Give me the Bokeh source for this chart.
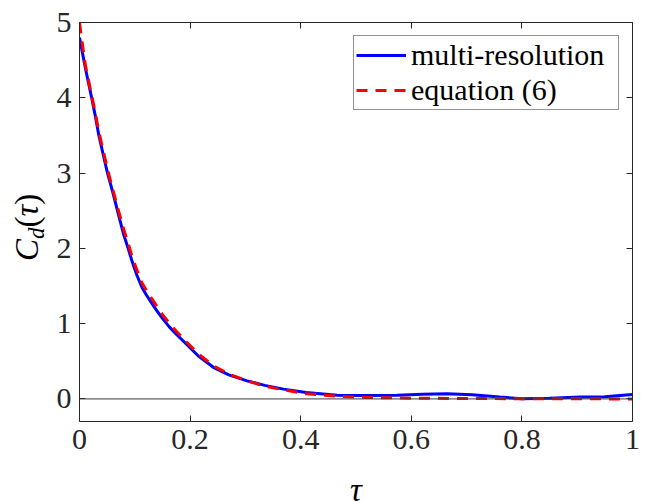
from bokeh.plotting import figure
from bokeh.layouts import row, column
from bokeh.models import (Range1d, LinearAxis, FixedTicker, Span, Label, Div,
                          Legend, LegendItem, CustomLabelingPolicy)
from bokeh.embed import file_html
from bokeh.resources import INLINE

# ---- data ----
tau_mr = [0.000, 0.005, 0.010, 0.015, 0.022, 0.028, 0.035, 0.043, 0.051, 0.060,
          0.069, 0.080, 0.088, 0.095, 0.104, 0.113, 0.121, 0.130, 0.140, 0.150,
          0.162, 0.175, 0.193, 0.215, 0.242, 0.270, 0.303, 0.335, 0.369, 0.410,
          0.466, 0.520, 0.574, 0.620, 0.665, 0.710, 0.760, 0.800, 0.850, 0.906,
          0.950, 1.000]
cd_mr = [4.80, 4.61, 4.42, 4.24, 4.00, 3.78, 3.50, 3.24, 2.99, 2.75,
         2.49, 2.18, 2.00, 1.83, 1.64, 1.48, 1.38, 1.28, 1.17, 1.07,
         0.96, 0.86, 0.73, 0.57, 0.42, 0.32, 0.24, 0.18, 0.13, 0.085,
         0.050, 0.045, 0.050, 0.062, 0.068, 0.055, 0.025, 0.003, 0.010, 0.024,
         0.030, 0.058]

tau_eq = [0.000, 0.005, 0.010, 0.015, 0.022, 0.028, 0.035, 0.043, 0.051, 0.060,
          0.069, 0.080, 0.088, 0.095, 0.104, 0.113, 0.121, 0.130, 0.140, 0.150,
          0.162, 0.175, 0.193, 0.215, 0.242, 0.270, 0.303, 0.335, 0.369, 0.410,
          0.466, 0.520, 0.600, 0.700, 0.800, 0.900, 1.000]
cd_eq = [5.00, 4.72, 4.46, 4.28, 4.03, 3.82, 3.55, 3.29, 3.04, 2.79,
         2.54, 2.25, 2.07, 1.89, 1.71, 1.54, 1.44, 1.34, 1.23, 1.12,
         1.01, 0.90, 0.76, 0.60, 0.44, 0.33, 0.24, 0.17, 0.12, 0.07,
         0.035, 0.020, 0.010, 0.005, 0.003, 0.001, 0.000]

x_ticks = [0, 0.2, 0.4, 0.6, 0.8, 1]
x_tick_labels = ["0", "0.2", "0.4", "0.6", "0.8", "1"]
y_ticks = [0, 1, 2, 3, 4, 5]
y_tick_labels = ["0", "1", "2", "3", "4", "5"]
series_names = ["multi-resolution", "equation (6)"]
x_label = "τ"
y_label_parts = ["C", "d", "τ"]

FONT = "Liberation Serif"
AX = "#262626"

LEFT_W = 48
MAIN_W = 657 - LEFT_W
MAIN_H = 470
BOT_H = 501 - MAIN_H


def blank_fig(w, h, xr, yr):
    f = figure(width=w, height=h, output_backend="svg", toolbar_location=None,
               title=None, x_range=xr, y_range=yr,
               min_border_left=0, min_border_right=0, min_border_top=0,
               min_border_bottom=0, x_axis_location=None, y_axis_location=None)
    f.outline_line_color = None
    f.background_fill_color = "white"
    f.border_fill_color = "white"
    f.grid.visible = False
    return f


# ---------------- main plot ----------------
p = figure(width=MAIN_W, height=MAIN_H, output_backend="svg",
           toolbar_location=None, title=None,
           x_range=Range1d(0, 1), y_range=Range1d(-0.3, 5),
           min_border_left=79 - LEFT_W, min_border_right=25, min_border_top=20,
           min_border_bottom=MAIN_H - 20 - 401,
           x_axis_location=None, y_axis_location=None)
p.background_fill_color = "white"
p.border_fill_color = "white"
p.outline_line_color = None
p.grid.visible = False

no_labels = CustomLabelingPolicy(code="""
const all = [...indices]
for (const i of all) indices.unset(i)
return indices
""")


def style_axis(ax, ticks, labels, show_labels):
    ax.ticker = FixedTicker(ticks=ticks)
    ax.major_label_overrides = {t: l for t, l in zip(ticks, labels)}
    ax.axis_line_color = AX
    ax.axis_line_width = 1
    ax.major_tick_line_color = AX
    ax.major_tick_line_width = 1
    ax.major_tick_in = 6
    ax.major_tick_out = 0
    ax.minor_tick_line_color = None
    ax.major_label_text_font = FONT
    ax.major_label_text_color = AX
    ax.major_label_text_font_size = "30px"
    if show_labels:
        ax.major_label_standoff = 8
    else:
        ax.major_label_standoff = 0
        ax.major_label_policy = no_labels


xb = LinearAxis(); style_axis(xb, x_ticks, x_tick_labels, True)
xt = LinearAxis(); style_axis(xt, x_ticks, x_tick_labels, False)
yl = LinearAxis(); style_axis(yl, y_ticks, y_tick_labels, True)
yr = LinearAxis(); style_axis(yr, y_ticks, y_tick_labels, False)
p.add_layout(xb, "below")
p.add_layout(xt, "above")
p.add_layout(yl, "left")
p.add_layout(yr, "right")

p.add_layout(Span(location=0, dimension="width", line_color="#3a3a3a",
                  line_width=1))

r_mr = p.line(tau_mr, cd_mr, line_color="#0000FF", line_width=3)
r_eq = p.line(tau_eq, cd_eq, line_color="#FF0000", line_width=3,
              line_dash="11 8")

legend = Legend(items=[LegendItem(label=series_names[0], renderers=[r_mr]),
                       LegendItem(label=series_names[1], renderers=[r_eq])],
                location="top_right")
legend.margin = 13
legend.padding = 2
legend.spacing = 1
legend.glyph_width = 50
legend.glyph_height = 32
legend.label_height = 32
legend.label_width = 205
legend.label_standoff = 5
legend.label_text_font = FONT
legend.label_text_font_size = "30px"
legend.label_text_color = "black"
legend.border_line_color = AX
legend.border_line_width = 1
legend.background_fill_color = "white"
legend.background_fill_alpha = 1
p.add_layout(legend, "center")

# ---------------- y label (left strip, HTML text rotated with CSS) --------
y_html = (
    '<div style="position:relative;width:%dpx;height:501px;">'
    '<div style="position:absolute;left:11px;top:261px;transform-origin:0 0;'
    'transform:rotate(-90deg);white-space:nowrap;'
    'font-family:Liberation Serif, serif;'
    'font-size:33px;line-height:33px;color:black;">'
    '<i style="font-family:Liberation Serif, serif;">%s</i>'
    '<i style="font-family:Liberation Serif, serif;font-size:23px;'
    'position:relative;top:6px;">%s</i>'
    '<span style="font-family:Liberation Serif, serif;">(<i>%s</i>)</span>'
    '</div></div>'
) % (LEFT_W, y_label_parts[0], y_label_parts[1], y_label_parts[2])
left = Div(text=y_html, width=LEFT_W, height=501, margin=(0, 0, 0, 0))

# ---------------- x label (bottom strip, frame aligned with main) ---------
bottom = blank_fig(MAIN_W, BOT_H, Range1d(0, 1), Range1d(0, BOT_H))
bottom.add_layout(Label(x=0.5, y=12, text=x_label,
                        text_font=FONT, text_font_style="italic",
                        text_font_size="33px", text_align="center",
                        text_baseline="alphabetic", text_color="black"))

layout = row(left, column(p, bottom, spacing=0), spacing=0)

open("out.html", "w").write(file_html(layout, INLINE))
